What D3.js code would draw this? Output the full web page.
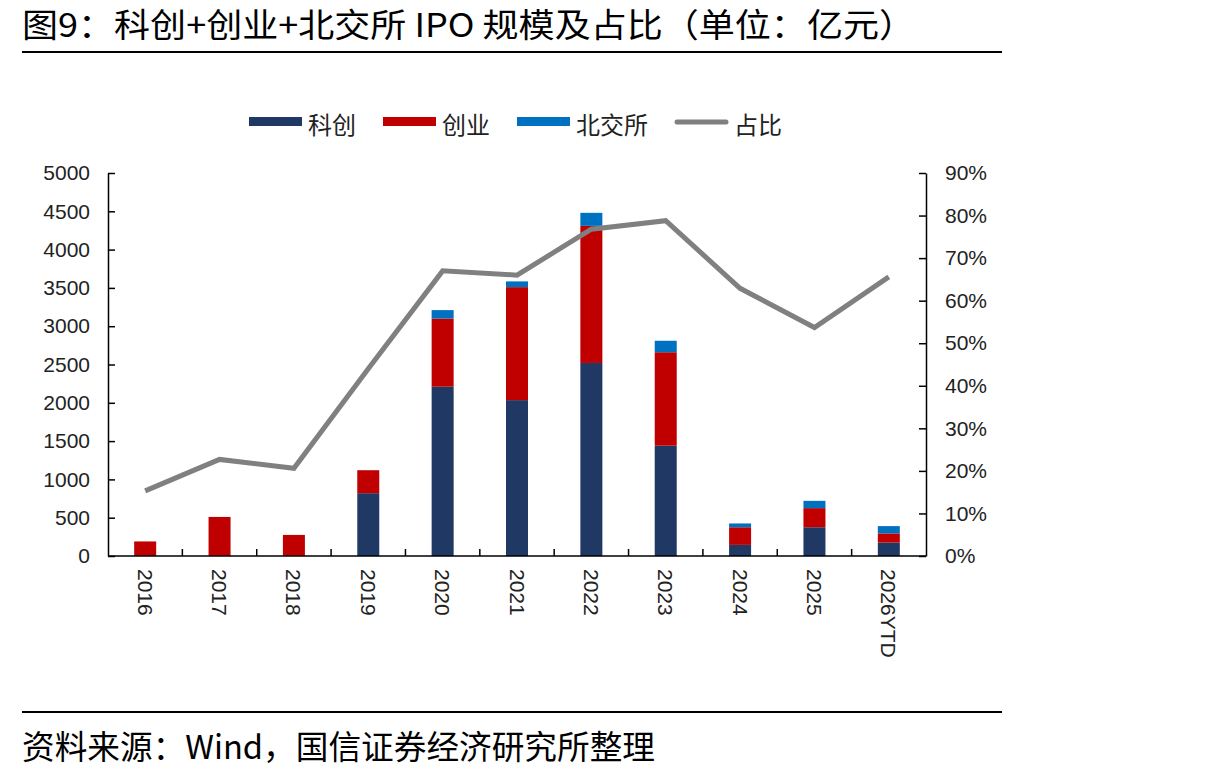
<!DOCTYPE html>
<html>
<head>
<meta charset="utf-8">
<script src="https://cdn.jsdelivr.net/npm/d3@7/dist/d3.min.js"></script>
<style>
  html, body { margin: 0; padding: 0; background: #fff; }
  svg { display: block; }
</style>
</head>
<body>
<div id="chart"></div>
<script>
// data (亿元, %)
const categories = ['2016', '2017', '2018', '2019', '2020', '2021', '2022', '2023', '2024', '2025', '2026YTD'];
const kechuang = [0, 0, 0, 820, 2210, 2035, 2520, 1440, 145, 375, 175];
const chuangye = [190, 510, 275, 300, 890, 1475, 1790, 1220, 230, 250, 120];
const beijiaosuo = [0, 0, 0, 0, 110, 75, 170, 150, 50, 95, 95];
const ratio = [15.3, 22.7, 20.6, 44.0, 67.0, 66.0, 76.8, 78.8, 62.9, 53.7, 65.6];
const leftTicks = [0, 500, 1000, 1500, 2000, 2500, 3000, 3500, 4000, 4500, 5000];
const rightTicks = [0, 10, 20, 30, 40, 50, 60, 70, 80, 90];
const seriesNames = ['科创', '创业', '北交所', '占比'];
const colors = ['#203864', '#c00000', '#0070c0', '#808080'];

const W = 1217, H = 778;
const margin = { left: 108, right: 926, top: 173, bottom: 556 };
const axisFont = "'Liberation Sans', Arial, sans-serif";
const cjkFont = "'Noto Sans CJK SC', sans-serif";

const svg = d3.select('#chart').append('svg')
  .attr('width', W)
  .attr('height', H);

// title + rules
svg.append('text')
  .attr('x', 22).attr('y', 37)
  .attr('font-family', cjkFont)
  .attr('font-size', 33)
  .attr('textLength', 893)
  .attr('lengthAdjust', 'spacingAndGlyphs')
  .attr('fill', '#000')
  .text('图9：科创+创业+北交所 IPO 规模及占比（单位：亿元）');

svg.append('line')
  .attr('x1', 22).attr('x2', 1002).attr('y1', 52).attr('y2', 52)
  .attr('stroke', '#000').attr('stroke-width', 2);

svg.append('line')
  .attr('x1', 22).attr('x2', 1002).attr('y1', 712).attr('y2', 712)
  .attr('stroke', '#000').attr('stroke-width', 2);

svg.append('text')
  .attr('x', 22).attr('y', 759)
  .attr('font-family', cjkFont)
  .attr('font-size', 33)
  .attr('textLength', 633)
  .attr('lengthAdjust', 'spacingAndGlyphs')
  .attr('fill', '#000')
  .text('资料来源：Wind，国信证券经济研究所整理');

// scales
const x = d3.scaleBand().domain(categories).range([margin.left, margin.right]).padding(0);
const barW = 22;
const y = d3.scaleLinear().domain([0, 5000]).range([margin.bottom, margin.top]);
const yR = d3.scaleLinear().domain([0, 90]).range([margin.bottom, margin.top]);

// stacked bars
const rows = categories.map((c, i) => ({ cat: c, k: kechuang[i], c: chuangye[i], b: beijiaosuo[i] }));
const stack = d3.stack().keys(['k', 'c', 'b'])(rows);

svg.append('g').selectAll('g')
  .data(stack)
  .enter().append('g')
  .attr('fill', (d, i) => colors[i])
  .selectAll('rect')
  .data(d => d)
  .enter().append('rect')
  .attr('x', d => x(d.data.cat) + (x.bandwidth() - barW) / 2)
  .attr('width', barW)
  .attr('y', d => y(d[1]))
  .attr('height', d => y(d[0]) - y(d[1]));

// left axis
const gL = svg.append('g')
  .attr('transform', `translate(${margin.left},0)`)
  .call(d3.axisLeft(y).tickValues(leftTicks).tickSizeInner(-7).tickSizeOuter(0).tickPadding(18)
    .tickFormat(d3.format('d')));

// right axis
const gR = svg.append('g')
  .attr('transform', `translate(${margin.right},0)`)
  .call(d3.axisRight(yR).tickValues(rightTicks).tickSizeInner(-7).tickSizeOuter(0).tickPadding(19)
    .tickFormat(d => d + '%'));

[gL, gR].forEach(g => {
  g.select('.domain').attr('stroke', '#000').attr('stroke-width', 1.5);
  g.selectAll('.tick line').attr('stroke', '#000').attr('stroke-width', 1.5);
  g.selectAll('.tick text')
    .attr('font-family', axisFont)
    .attr('font-size', 21)
    .attr('fill', '#222');
});

// x axis
svg.append('line')
  .attr('x1', margin.left).attr('x2', margin.right)
  .attr('y1', margin.bottom).attr('y2', margin.bottom)
  .attr('stroke', '#000').attr('stroke-width', 1.5);

svg.append('g').selectAll('line')
  .data(categories.slice(1))
  .enter().append('line')
  .attr('x1', d => x(d)).attr('x2', d => x(d))
  .attr('y1', margin.bottom).attr('y2', margin.bottom - 7)
  .attr('stroke', '#000').attr('stroke-width', 1.5);

svg.append('g').selectAll('text')
  .data(categories)
  .enter().append('text')
  .attr('transform', d => `translate(${x(d) + x.bandwidth() / 2},${margin.bottom + 13}) rotate(90)`)
  .attr('dominant-baseline', 'central')
  .attr('font-family', axisFont)
  .attr('font-size', 21)
  .attr('fill', '#222')
  .text(d => d);

// ratio line
const line = d3.line()
  .x((d, i) => x(categories[i]) + x.bandwidth() / 2)
  .y(d => yR(d));

svg.append('path')
  .datum(ratio)
  .attr('d', line)
  .attr('fill', 'none')
  .attr('stroke', colors[3])
  .attr('stroke-width', 5);

// legend
const legend = svg.append('g');
let lx = 249;
const ly = 122;
seriesNames.forEach((name, i) => {
  if (i < 3) {
    legend.append('rect')
      .attr('x', lx).attr('y', ly - 5)
      .attr('width', 53).attr('height', 9)
      .attr('fill', colors[i]);
  } else {
    legend.append('line')
      .attr('x1', lx + 2).attr('x2', lx + 51)
      .attr('y1', ly).attr('y2', ly)
      .attr('stroke', colors[i]).attr('stroke-width', 5)
      .attr('stroke-linecap', 'round');
  }
  const t = legend.append('text')
    .attr('x', lx + 59).attr('y', ly + 1)
    .attr('dominant-baseline', 'central')
    .attr('font-family', cjkFont)
    .attr('font-size', 24)
    .attr('fill', '#222')
    .text(name);
  lx += 59 + t.node().getComputedTextLength() + 27;
});
</script>
</body>
</html>
